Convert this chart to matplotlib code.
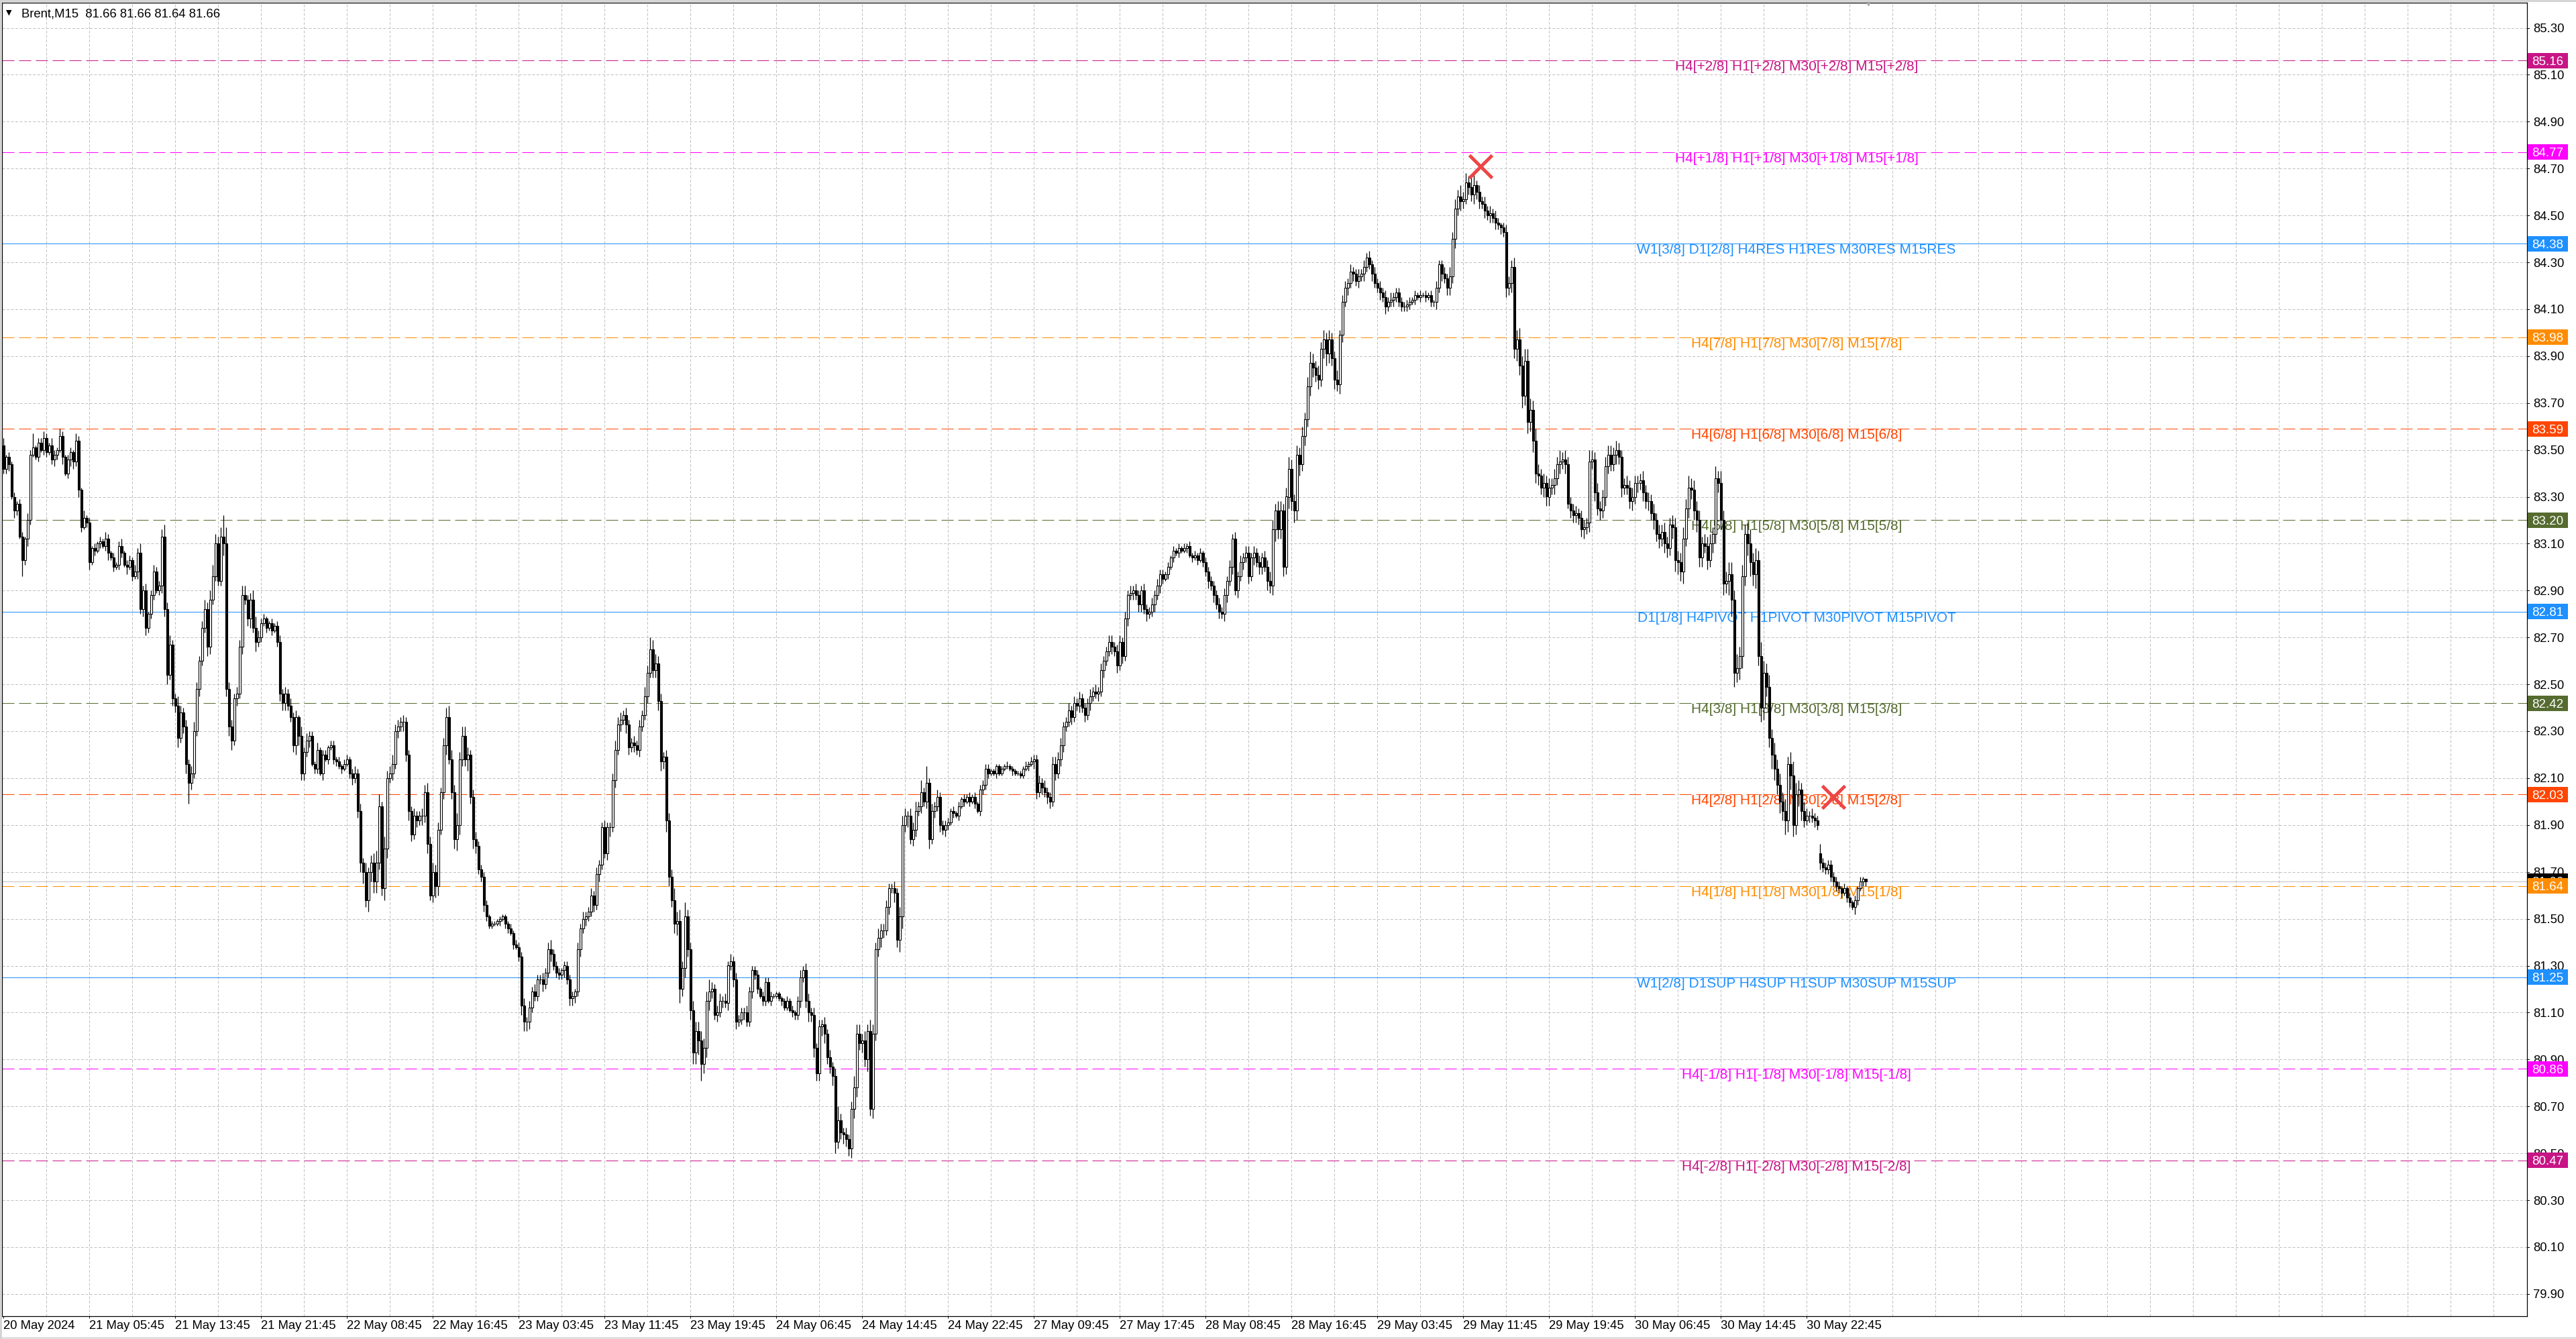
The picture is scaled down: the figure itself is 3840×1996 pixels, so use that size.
import numpy as np
import matplotlib
matplotlib.use("Agg")
import matplotlib.pyplot as plt
from matplotlib.patches import Rectangle

plt.rcParams['lines.scale_dashes'] = False
UI_FONT = ['Liberation Sans', 'DejaVu Sans']

# ---- data: Brent M15, one close per bar (rows of 16 bars) ----
closes = [
    83.42, 83.47, 83.44, 83.30, 83.24, 83.27, 83.13, 83.03, 83.12, 83.20, 83.48, 83.51, 83.47, 83.53, 83.50, 83.55,
    83.49, 83.52, 83.46, 83.48, 83.50, 83.56, 83.47, 83.40, 83.46, 83.49, 83.45, 83.54, 83.33, 83.17, 83.21, 83.19,
    83.02, 83.08, 83.07, 83.10, 83.11, 83.09, 83.12, 83.06, 83.04, 83.00, 83.01, 83.09, 83.06, 83.01, 83.00, 83.03,
    82.96, 82.98, 83.06, 82.82, 82.90, 82.74, 82.80, 82.88, 82.98, 82.90, 82.92, 83.13, 82.82, 82.54, 82.67, 82.44,
    82.41, 82.27, 82.38, 82.32, 82.16, 82.08, 82.12, 82.30, 82.48, 82.60, 82.74, 82.82, 82.66, 82.86, 82.96, 83.10,
    82.94, 83.13, 83.10, 82.48, 82.32, 82.26, 82.44, 82.46, 82.66, 82.88, 82.86, 82.78, 82.86, 82.74, 82.68, 82.70,
    82.76, 82.78, 82.74, 82.76, 82.73, 82.75, 82.68, 82.46, 82.42, 82.46, 82.41, 82.36, 82.24, 82.36, 82.28, 82.12,
    82.21, 82.26, 82.28, 82.16, 82.14, 82.22, 82.12, 82.20, 82.18, 82.23, 82.24, 82.18, 82.17, 82.15, 82.14, 82.16,
    82.18, 82.12, 82.10, 82.12, 81.96, 81.74, 81.70, 81.58, 81.70, 81.74, 81.66, 81.74, 81.98, 81.63, 81.80, 82.10,
    82.12, 82.16, 82.30, 82.32, 82.34, 82.34, 82.20, 81.96, 81.86, 81.94, 81.92, 81.94, 81.94, 82.04, 81.82, 81.60,
    81.70, 81.64, 81.88, 82.04, 82.24, 82.36, 82.18, 82.04, 81.84, 81.90, 82.18, 82.28, 82.18, 82.20, 82.02, 81.84,
    81.81, 81.71, 81.68, 81.56, 81.51, 81.47, 81.48, 81.48, 81.49, 81.50, 81.51, 81.48, 81.46, 81.44, 81.39, 81.38,
    81.34, 81.13, 81.06, 81.06, 81.12, 81.19, 81.17, 81.24, 81.24, 81.22, 81.27, 81.37, 81.35, 81.30, 81.27, 81.26,
    81.28, 81.30, 81.24, 81.16, 81.17, 81.19, 81.37, 81.46, 81.50, 81.51, 81.53, 81.60, 81.56, 81.69, 81.73, 81.89,
    81.78, 81.89, 81.89, 82.09, 82.22, 82.33, 82.35, 82.37, 82.33, 82.23, 82.25, 82.24, 82.22, 82.32, 82.37, 82.45,
    82.55, 82.65, 82.56, 82.59, 82.43, 82.17, 82.19, 81.92, 81.68, 81.58, 81.48, 81.49, 81.20, 81.29, 81.51, 81.37,
    81.11, 80.93, 81.02, 80.98, 80.88, 80.95, 81.15, 81.19, 81.20, 81.09, 81.10, 81.15, 81.15, 81.14, 81.30, 81.32,
    81.24, 81.06, 81.07, 81.10, 81.10, 81.06, 81.19, 81.28, 81.26, 81.20, 81.17, 81.15, 81.23, 81.15, 81.17, 81.17,
    81.18, 81.16, 81.15, 81.12, 81.15, 81.11, 81.10, 81.09, 81.15, 81.25, 81.28, 81.15, 81.10, 81.09, 80.95, 80.84,
    81.04, 81.05, 81.01, 80.91, 80.87, 80.83, 80.55, 80.64, 80.59, 80.58, 80.56, 80.52, 80.69, 80.78, 81.01, 80.97,
    80.98, 80.90, 81.02, 80.69, 81.01, 81.37, 81.42, 81.45, 81.45, 81.55, 81.63, 81.63, 81.61, 81.41, 81.51, 81.90,
    81.94, 81.94, 81.84, 81.88, 81.96, 81.98, 82.04, 82.00, 82.08, 81.84, 81.96, 81.98, 82.02, 81.90, 81.88, 81.90,
    81.91, 81.96, 81.95, 81.94, 81.98, 82.01, 82.00, 82.02, 82.00, 82.02, 81.99, 81.96, 82.05, 82.07, 82.14, 82.12,
    82.13, 82.12, 82.15, 82.12, 82.14, 82.15, 82.15, 82.14, 82.13, 82.12, 82.12, 82.11, 82.14, 82.15, 82.16, 82.17,
    82.18, 82.04, 82.08, 82.06, 82.04, 82.02, 82.00, 82.16, 82.12, 82.18, 82.24, 82.32, 82.34, 82.39, 82.36, 82.42,
    82.41, 82.44, 82.40, 82.37, 82.42, 82.45, 82.47, 82.46, 82.47, 82.56, 82.60, 82.64, 82.68, 82.66, 82.64, 82.58,
    82.68, 82.62, 82.78, 82.88, 82.89, 82.90, 82.88, 82.84, 82.90, 82.82, 82.80, 82.81, 82.84, 82.88, 82.92, 82.97,
    82.95, 82.97, 83.00, 83.04, 83.07, 83.06, 83.08, 83.07, 83.08, 83.09, 83.05, 83.04, 83.05, 83.03, 83.06, 83.02,
    82.98, 82.94, 82.92, 82.88, 82.84, 82.81, 82.80, 82.88, 82.94, 83.00, 83.12, 82.90, 82.96, 83.02, 83.04, 83.06,
    82.96, 83.04, 83.06, 83.02, 83.00, 83.04, 83.00, 82.94, 82.92, 83.16, 83.24, 83.16, 83.24, 83.00, 83.30, 83.42,
    83.28, 83.24, 83.48, 83.44, 83.56, 83.63, 83.77, 83.87, 83.85, 83.82, 83.80, 83.93, 83.97, 83.91, 83.97, 83.89,
    83.80, 83.78, 83.99, 84.13, 84.19, 84.21, 84.26, 84.25, 84.22, 84.24, 84.25, 84.28, 84.32, 84.29, 84.25, 84.21,
    84.19, 84.17, 84.15, 84.11, 84.13, 84.14, 84.15, 84.17, 84.13, 84.11, 84.11, 84.12, 84.13, 84.14, 84.16, 84.15,
    84.16, 84.16, 84.15, 84.16, 84.13, 84.13, 84.19, 84.29, 84.25, 84.23, 84.19, 84.24, 84.40, 84.53, 84.58, 84.56,
    84.57, 84.64, 84.62, 84.59, 84.63, 84.60, 84.56, 84.55, 84.52, 84.50, 84.51, 84.49, 84.47, 84.46, 84.45, 84.43,
    84.19, 84.21, 84.28, 83.93, 83.97, 83.86, 83.73, 83.88, 83.62, 83.67, 83.54, 83.40, 83.39, 83.34, 83.36, 83.30,
    83.34, 83.35, 83.38, 83.44, 83.45, 83.46, 83.44, 83.27, 83.24, 83.22, 83.23, 83.21, 83.16, 83.17, 83.19, 83.45,
    83.46, 83.32, 83.25, 83.24, 83.30, 83.43, 83.48, 83.44, 83.48, 83.50, 83.47, 83.34, 83.35, 83.34, 83.28, 83.30,
    83.36, 83.36, 83.37, 83.32, 83.28, 83.28, 83.23, 83.20, 83.14, 83.12, 83.15, 83.10, 83.08, 83.18, 83.17, 83.03,
    83.02, 82.98, 83.12, 83.25, 83.34, 83.33, 83.24, 83.20, 83.04, 83.10, 83.09, 83.03, 83.10, 83.14, 83.38, 83.36,
    83.20, 82.93, 82.94, 82.97, 82.86, 82.55, 82.57, 82.62, 82.96, 83.14, 83.10, 83.02, 82.97, 83.03, 82.62, 82.40,
    82.55, 82.49, 82.27, 82.20, 82.14, 82.07, 82.00, 81.96, 81.92, 82.16, 82.11, 81.90, 82.03, 82.05, 81.96, 81.92,
    81.94, 81.94, 81.93, 81.92, 81.90, 81.74, 81.72, 81.71, 81.73, 81.68, 81.66, 81.64, 81.63, 81.61, 81.63, 81.59,
    81.57, 81.55, 81.58, 81.63, 81.66, 81.67, 81.66,
]

# upper / lower wick of each bar, in cents (one digit per bar)
up_wick = (
    "3121212213261223", "2132132122132131", "2121213212123122", "1324231232235342",
    "2432323432343454", "3497332334423453", "2211212323232314", "2322131221221212",
    "2123232423455253", "3433232223223343", "4332345435344323", "3222211111111212",
    "2232323223234222", "1222213232232322", "3223433232232324", "3544332333545363",
    "3444444532332323", "2322232222122221", "1111212123233232", "3232323632323544",
    "3435434333223244", "3233425272323222", "2121212121212222", "1111112111111212",
    "2232322333322323", "2322232323223323", "3232323223223232", "2121212121212121",
    "2222232323232323", "3232323344344345", "4343434543434343", "3423323223232323",
    "2323232222222121", "2121213223243435", "3434523232323212", "3334454555454343",
    "4343534333323325", "4343344434333434", "3334343434343344", "4454544443444353",
    "5445546454564546", "5454545453565434", "3232242222222121", "2121210",
)
dn_wick = (
    "2231321723211212", "2123213123323212", "3121212312122131", "2132332221233423",
    "3423493223224322", "2253442323234242", "2121212333223443", "3231221312122121",
    "1232345354553354", "2323243432324342", "3542342345433534", "3223211112122121",
    "2444322223223222", "2323332323223232", "2342323243232322", "3233443543456343",
    "4556744432323232", "3322322322122121", "1121112223234343", "3443345334334443",
    "4353433432324355", "3523323234232323", "2121212121212222", "1121111121111121",
    "3323233232332232", "2323232232322323", "2323232332322323", "2121212112121212",
    "2323232332323232", "3232332434544435", "4545343443434543", "4343232323232232",
    "2323223222222121", "2121223232333434", "3233433232323232", "4344545454544344",
    "4343434233333434", "3434343334343334", "3434343434344355", "5453444544343444",
    "4546764554565646", "5446545465654543", "2323232222222212", "2132122",
)
first_open = 83.52
gap_opens = {677: 81.78}

time_labels = [
    "20 May 2024", "21 May 05:45", "21 May 13:45", "21 May 21:45", "22 May 08:45",
    "22 May 16:45", "23 May 03:45", "23 May 11:45", "23 May 19:45", "24 May 06:45",
    "24 May 14:45", "24 May 22:45", "27 May 09:45", "27 May 17:45", "28 May 08:45",
    "28 May 16:45", "29 May 03:45", "29 May 11:45", "29 May 19:45", "30 May 06:45",
    "30 May 14:45", "30 May 22:45",
]
bars_per_label = 32

price_ticks = [85.30, 85.10, 84.90, 84.70, 84.50, 84.30, 84.10, 83.90, 83.70, 83.50,
               83.30, 83.10, 82.90, 82.70, 82.50, 82.30, 82.10, 81.90, 81.70, 81.50,
               81.30, 81.10, 80.90, 80.70, 80.50, 80.30, 80.10, 79.90]

level_prices = [85.16, 84.77, 84.38, 83.98, 83.59, 83.20, 82.81,
                82.42, 82.03, 81.64, 81.25, 80.86, 80.47]
level_colors = ['#C71585', '#FF00FF', '#1E90FF', '#FF8C00', '#FF4500', '#556B2F', '#1E90FF',
                '#556B2F', '#FF4500', '#FF8C00', '#1E90FF', '#FF00FF', '#C71585']
level_dashed = [True, True, False, True, True, True, False,
                True, True, True, False, True, True]
level_texts = [
    "H4[+2/8] H1[+2/8] M30[+2/8] M15[+2/8]",
    "H4[+1/8] H1[+1/8] M30[+1/8] M15[+1/8]",
    "W1[3/8] D1[2/8] H4RES H1RES M30RES M15RES",
    "H4[7/8] H1[7/8] M30[7/8] M15[7/8]",
    "H4[6/8] H1[6/8] M30[6/8] M15[6/8]",
    "H4[5/8] H1[5/8] M30[5/8] M15[5/8]",
    "D1[1/8] H4PIVOT H1PIVOT M30PIVOT M15PIVOT",
    "H4[3/8] H1[3/8] M30[3/8] M15[3/8]",
    "H4[2/8] H1[2/8] M30[2/8] M15[2/8]",
    "H4[1/8] H1[1/8] M30[1/8] M15[1/8]",
    "W1[2/8] D1SUP H4SUP H1SUP M30SUP M15SUP",
    "H4[-1/8] H1[-1/8] M30[-1/8] M15[-1/8]",
    "H4[-2/8] H1[-2/8] M30[-2/8] M15[-2/8]",
]
label_bar = 668.25

bid_price = 81.66
mark_bars = [550.5, 682]
mark_prices = [84.71, 82.02]

# ---- build OHLC ----
c = np.array(closes)
n = len(c)
x = np.arange(n)
o = np.concatenate([[first_open], c[:-1]])
for i, v in gap_opens.items():
    o[i] = v
up = np.array([int(ch) for ch in "".join(up_wick)][:n]) / 100.0
dn = np.array([int(ch) for ch in "".join(dn_wick)][:n]) / 100.0
hi = np.maximum(o, c) + up
lo = np.minimum(o, c) - dn

# ---- layout in screen pixels ----
W, H = 3840, 1996
X0, X1 = 3, 3766.5
Y0, Y1 = 4, 1961.5


def px_to_bar(px):
    return (px - 5) / 4.0


def py_to_price(py):
    return 85.30 - (py - 41.5) / 349.5


fig = plt.figure(figsize=(W / 100, H / 100), dpi=100)
fig.patch.set_facecolor('white')
ax = fig.add_axes([X0 / W, (H - Y1) / H, (X1 - X0) / W, (Y1 - Y0) / H])
xmax = px_to_bar(X1)
ylo, yhi = py_to_price(Y1), py_to_price(Y0)
ax.set_xlim(px_to_bar(X0), xmax)
ax.set_ylim(ylo, yhi)
ax.set_facecolor('white')

# grid
for b in range(16, int(xmax) + 1, 16):
    ax.axvline(b, color='#c0c0c0', lw=0.72, dashes=(2.9, 1.8), zorder=0)
for p in price_ticks:
    ax.axhline(p, color='#c0c0c0', lw=0.72, dashes=(2.9, 1.8), zorder=0)

# murrey levels
ax.axhline(bid_price, color='#c0c0c0', lw=0.72, zorder=1)
for lvl, col, dashed, txt in zip(level_prices, level_colors, level_dashed, level_texts):
    if dashed:
        ax.axhline(lvl, color=col, lw=0.72, dashes=(13, 5), zorder=1)
    else:
        ax.axhline(lvl, color=col, lw=0.72, zorder=1)
    ax.text(label_bar, lvl, txt, color=col, fontsize=15, family=UI_FONT,
            ha='center', va='top', zorder=2)

# candles
ax.vlines(x, lo, hi, color='black', lw=0.9, zorder=3)
bull = c >= o
bear = ~bull
ax.bar(x[bull], (c - o)[bull], bottom=o[bull], width=0.75, facecolor='white',
       edgecolor='black', linewidth=0.8, zorder=4)
ax.bar(x[bear], (c - o)[bear], bottom=o[bear], width=0.75, facecolor='black',
       edgecolor='black', linewidth=0.8, zorder=4)

ax.plot(mark_bars, mark_prices, linestyle='none', marker='x', ms=24, mew=3.6,
        color='#ee4646', zorder=6)

# chart shift marker
ax.plot([px_to_bar(2785)], [1.0], marker='v', ms=6, color='#a0a0a0',
        transform=ax.get_xaxis_transform(), clip_on=False, zorder=7)

for s in ax.spines.values():
    s.set_color('black')
    s.set_linewidth(0.9)

ax.set_yticks([])
ax.set_xticks([k * bars_per_label for k in range(len(time_labels))])
ax.set_xticklabels(time_labels)
ax.tick_params(axis='x', direction='out', length=2.3, width=0.72, pad=2.2,
               labelsize=13.3, colors='black')
for lbl in ax.get_xticklabels():
    lbl.set_ha('left')
    lbl.set_family(UI_FONT)

# right price scale
pax = fig.add_axes([X1 / W, (H - Y1) / H, (W - X1) / W, (Y1 - Y0) / H])
pax.set_xlim(0, W - X1)
pax.set_ylim(ylo, yhi)
pax.axis('off')
for p in price_ticks:
    pax.plot([0, 3.5], [p, p], color='black', lw=0.72, zorder=1)
    pax.text(9.5, p, f"{p:.2f}", fontsize=13.3, family=UI_FONT, color='black',
             ha='left', va='center_baseline', zorder=2)

box_h = 23 / 349.5
pax.add_patch(Rectangle((1.5, bid_price - box_h / 2), 60, box_h, facecolor='black',
                        edgecolor='none', zorder=3))
pax.text(31.5, bid_price, f"{bid_price:.2f}", fontsize=13.5, family=UI_FONT,
         color='white', ha='center', va='center_baseline', zorder=3.5)
for lvl, col in zip(level_prices, level_colors):
    pax.add_patch(Rectangle((1.5, lvl - box_h / 2), 60, box_h, facecolor=col,
                            edgecolor='none', zorder=4))
    pax.text(31.5, lvl, f"{lvl:.2f}", fontsize=13.5, family=UI_FONT, color='white',
             ha='center', va='center_baseline', zorder=5)

# header
fig.text(13 / W, 1 - 19 / H, "\u25bc", fontsize=8, family=['DejaVu Sans'],
         ha='center', va='center')
fig.text(32 / W, 1 - 19 / H, "Brent,M15  81.66 81.66 81.64 81.66", fontsize=13.3,
         family=UI_FONT, ha='left', va='center_baseline')

# window chrome strips
fig.add_artist(Rectangle((0, 1 - 3 / H), 1, 3 / H, transform=fig.transFigure,
                         facecolor='#d4d4d4', edgecolor='none'))
fig.add_artist(Rectangle((0, 0), 1, 3 / H, transform=fig.transFigure,
                         facecolor='#e0e0e0', edgecolor='none'))
fig.add_artist(Rectangle((0, 0), 2.5 / W, 1, transform=fig.transFigure,
                         facecolor='#d4d4d4', edgecolor='none'))

fig.savefig('out.png', dpi=100, facecolor='white')
